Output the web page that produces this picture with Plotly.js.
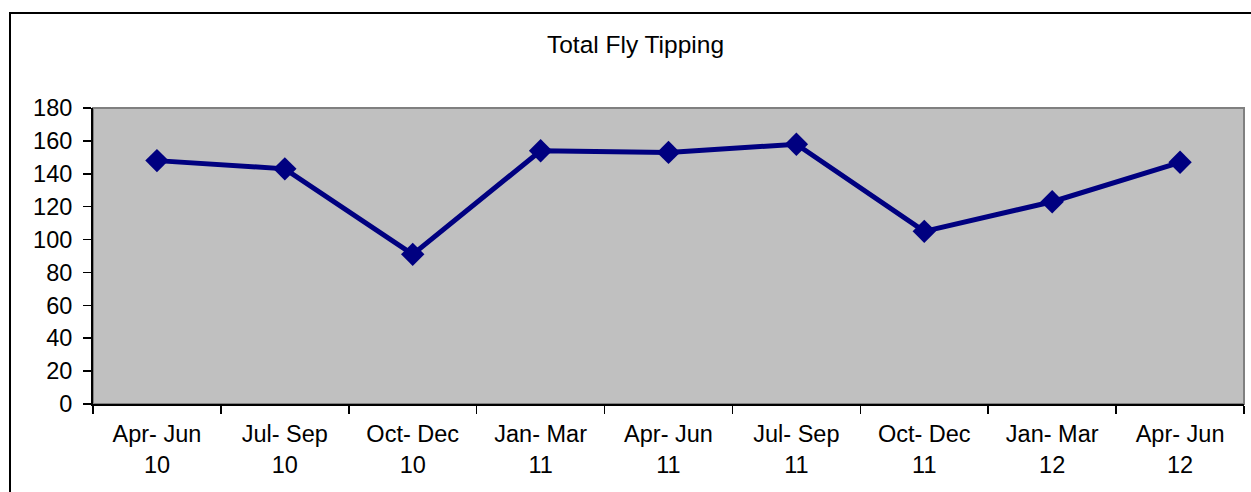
<!DOCTYPE html>
<html>
<head>
<meta charset="utf-8">
<script src="https://cdn.plot.ly/plotly-3.0.1.min.js"></script>
<style>
html,body{margin:0;padding:0;background:#fff;}
#chart{width:1251px;height:492px;}
</style>
</head>
<body>
<div id="chart"></div>
<script>
const categories = ["Apr- Jun<br>10","Jul- Sep<br>10","Oct- Dec<br>10","Jan- Mar<br>11","Apr- Jun<br>11","Jul- Sep<br>11","Oct- Dec<br>11","Jan- Mar<br>12","Apr- Jun<br>12"];
const totalFlyTipping = [148, 143, 91, 154, 153, 158, 105, 123, 147];
const yTickValues = [0,20,40,60,80,100,120,140,160,180];

const W = 1251, H = 492;
const L = 93, R = 1244, T = 108, B = 404;
const pw = R - L, ph = B - T;
function px2x(p){ return (p - L) / pw; }
function py2y(p){ return (B - p) / ph; }

const trace = {
  x: categories,
  y: totalFlyTipping,
  type: 'scatter',
  mode: 'lines+markers',
  line: {color: '#000080', width: 5},
  marker: {symbol: 'diamond', size: 18, color: '#000080'},
  hoverinfo: 'skip'
};

const fam = 'Liberation Sans, Arial, sans-serif';
const tickFont = {family: fam, size: 23.5, color: '#000'};

const layout = {
  width: W, height: H,
  margin: {l: L, r: W - R, t: T, b: H - B, pad: 0},
  paper_bgcolor: '#ffffff',
  plot_bgcolor: '#c0c0c0',
  showlegend: false,
  font: tickFont,
  title: {
    text: 'Total Fly Tipping',
    font: {family: fam, size: 24.5, color: '#000'},
    xref: 'container', yref: 'container',
    x: 635.5 / W, xanchor: 'center',
    y: 1 - 44 / H, yanchor: 'middle'
  },
  xaxis: {
    type: 'category',
    range: [-0.5, categories.length - 0.5],
    tickson: 'boundaries',
    ticks: 'outside', ticklen: 8, tickwidth: 1.5, tickcolor: '#000',
    ticklabelstandoff: 8,
    showline: true, linecolor: '#000', linewidth: 2,
    showgrid: false, zeroline: false,
    tickfont: tickFont,
    fixedrange: true
  },
  yaxis: {
    range: [0, 180],
    tickvals: yTickValues,
    ticktext: yTickValues.map(String),
    ticks: 'outside', ticklen: 8, tickwidth: 1.5, tickcolor: '#000',
    ticklabelstandoff: 6,
    showline: true, linecolor: '#000', linewidth: 2,
    showgrid: false, zeroline: false,
    tickfont: tickFont,
    fixedrange: true
  },
  shapes: [
    {type: 'rect', xref: 'paper', yref: 'paper', x0: 0, x1: 1, y0: 0, y1: 1,
     line: {color: '#808080', width: 2}, layer: 'below'},
    {type: 'rect', xref: 'paper', yref: 'paper',
     x0: px2x(10), x1: px2x(1262), y0: py2y(520), y1: py2y(13),
     line: {color: '#000', width: 2}, fillcolor: 'rgba(0,0,0,0)', layer: 'above'}
  ]
};

Plotly.newPlot('chart', [trace], layout, {staticPlot: true, displayModeBar: false});
</script>
</body>
</html>
